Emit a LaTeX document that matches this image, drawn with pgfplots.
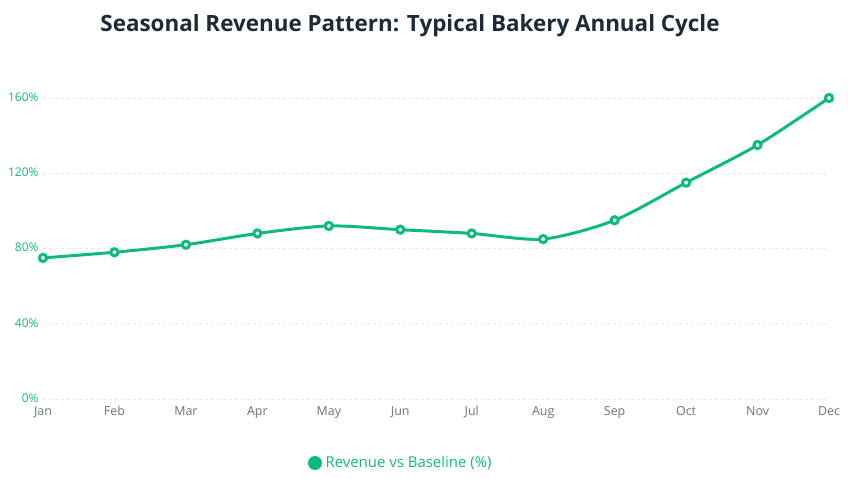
\documentclass[border=0pt]{standalone}
\usepackage{pgfplots}
\pgfplotsset{compat=1.18}
\usepackage{fontspec}
\setmainfont{Open Sans}
\definecolor{rev}{HTML}{10B981}
\definecolor{titlec}{HTML}{1F2937}
\definecolor{xlab}{HTML}{6B7280}
\definecolor{gridc}{HTML}{E5E7EB}
\begin{document}
\begin{tikzpicture}[x=1bp,y=1bp]
\path[use as bounding box] (0,0) rectangle (848,479);
\node[font=\fontsize{22.5}{26}\selectfont\bfseries, text=titlec] at (410,453) {Seasonal Revenue Pattern: Typical Bakery Annual Cycle};
\begin{axis}[
  at={(43bp,80bp)}, anchor=origin,
  scale only axis, width=786bp, height=301bp,
  xmin=0, xmax=11, ymin=0, ymax=160,
  axis line style={draw=none},
  major tick length=0pt,
  xtick={0,...,11},
  xticklabels={Jan,Feb,Mar,Apr,May,Jun,Jul,Aug,Sep,Oct,Nov,Dec},
  ytick={0,40,80,120,160},
  yticklabel={\pgfmathprintnumber{\tick}\%},
  /pgf/number format/assume math mode=true,
  xticklabel style={font=\fontsize{12.5}{14}\selectfont, text=xlab, yshift=-4bp},
  yticklabel style={font=\fontsize{12}{14}\selectfont, text=rev, xshift=-1bp, yshift=1bp},
  ymajorgrids, grid style={gridc, dash pattern=on 3bp off 3bp, line width=0.8bp},
  clip=false,
]
\addplot[rev, line width=3bp, smooth, tension=0.45,
  mark=*, mark size=3.6bp,
  mark options={fill=white, draw=rev, line width=3bp}]
  coordinates {(0,75) (1,78) (2,82) (3,88) (4,92) (5,90) (6,88) (7,85) (8,95) (9,115) (10,135) (11,160)};
\end{axis}
\node[font=\fontsize{15}{17}\selectfont, text=rev, anchor=west] at (322,16) {Revenue vs Baseline (\%)};
\fill[rev] (315,16) circle (7);
\end{tikzpicture}
\end{document}
